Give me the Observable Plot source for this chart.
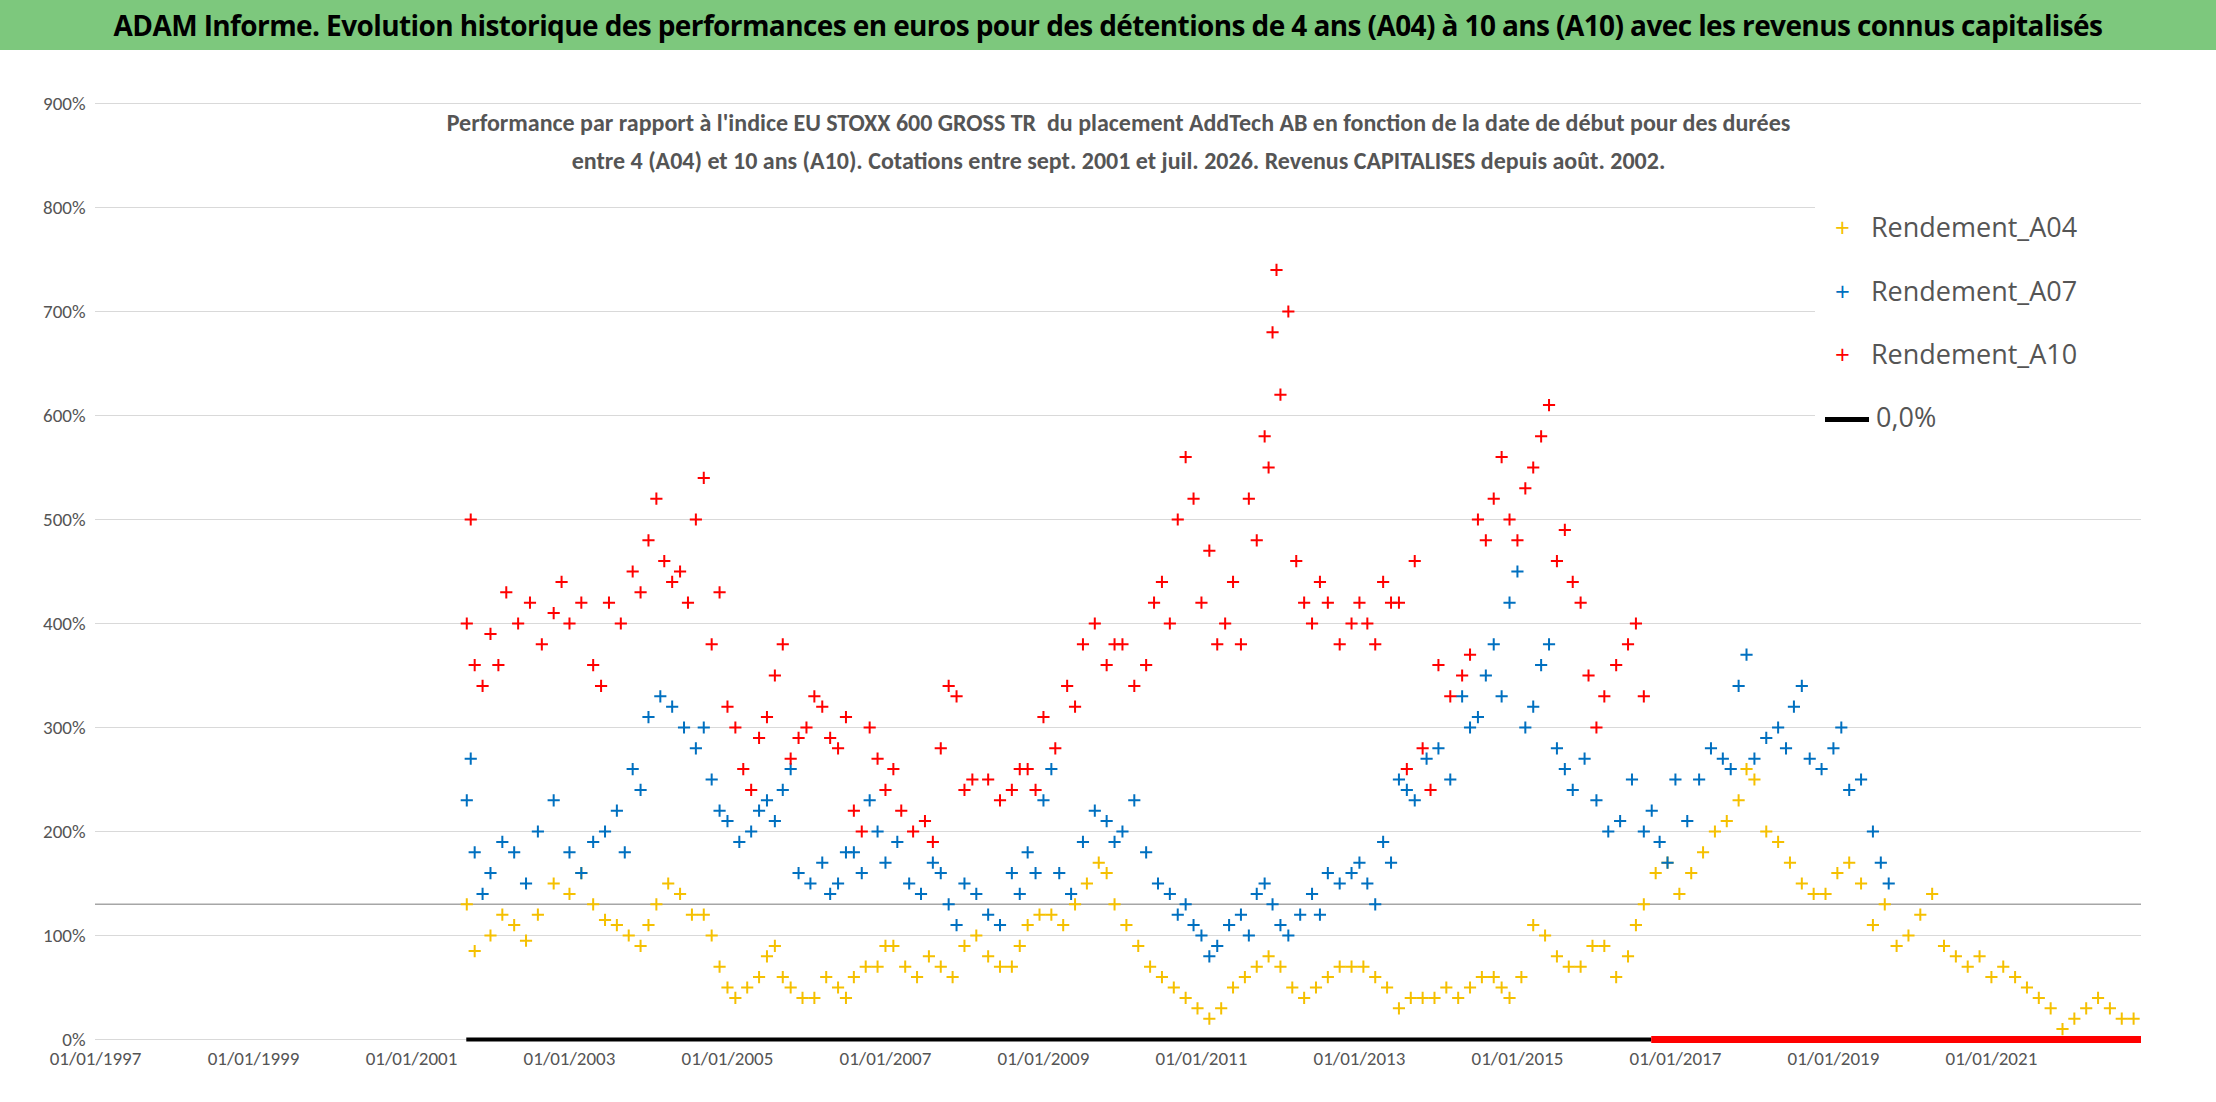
<!DOCTYPE html>
<html><head><meta charset="utf-8">
<script src="https://cdn.jsdelivr.net/npm/d3@7"></script>
<script src="https://cdn.jsdelivr.net/npm/@observablehq/plot@0.6"></script>
<style>
body{margin:0;background:#fff;font-family:Calibri,"Liberation Sans",Arial,sans-serif;}
#wrap{position:relative;width:2216px;height:1102px;}
#title{height:50px;background:#7dc87d;color:#000;font-weight:bold;font-size:28px;text-align:center;line-height:50px;white-space:nowrap;overflow:hidden;font-family:"Open Sans","Liberation Sans",Arial,sans-serif;letter-spacing:-0.6px;}
#legend{position:absolute;left:1815px;top:190px;width:330px;height:255px;background:#fff;font-size:27px;color:#555;font-family:"Open Sans","Liberation Sans",Arial,sans-serif;}
.li{position:absolute;left:20px;}
</style></head><body>
<div id="wrap">
<div id="title">ADAM Informe. Evolution historique des performances en euros pour des détentions de 4 ans (A04) à 10 ans (A10) avec les revenus connus capitalisés</div>
<div id="chart"></div>
<div id="legend">
<div class="li" style="top:18px"><span style="color:#f5c000;font-size:26px;">+</span>&nbsp;&nbsp;&nbsp;Rendement_A04</div>
<div class="li" style="top:82px"><span style="color:#0070c0;font-size:26px;">+</span>&nbsp;&nbsp;&nbsp;Rendement_A07</div>
<div class="li" style="top:145px"><span style="color:#ff0000;font-size:26px;">+</span>&nbsp;&nbsp;&nbsp;Rendement_A10</div>
<div class="li" style="top:208px"><span style="display:inline-block;width:44px;height:5px;background:#000;vertical-align:middle;margin-left:-10px"></span>&nbsp;0,0%</div>
</div>
</div>
<script>
const tickYears=[1997,1999,2001,2003,2005,2007,2009,2011,2013,2015,2017,2019,2021];
const a10Years=[2001.7,2001.8,2002,2002.2,2002.5,2002.8,2003,2003.3,2003.5,2003.8,2004,2004.2,2004.4,2004.6,2004.8,2005,2005.2,2005.4,2005.6,2005.8,2006,2006.2,2006.4,2006.6,2006.8,2007,2007.2,2007.5,2007.7,2007.9,2008,2008.3,2008.6,2008.8,2009,2009.3,2009.5,2009.8,2010,2010.3,2010.5,2010.7,2010.9,2011,2011.2,2011.4,2011.6,2011.8,2011.9,2012,2012.2,2012.4,2012.6,2012.9,2013.1,2013.3,2013.5,2013.6,2013.8,2014,2014.3,2014.5,2014.7,2014.9,2015.1,2015.3,2015.5,2015.7,2015.9,2016.1,2016.4,2016.6];
const a10Vals=[400,360,390,430,420,410,400,360,420,450,480,460,450,500,380,320,260,290,350,270,300,320,280,220,300,240,220,210,280,330,240,250,240,260,310,340,380,360,380,360,440,500,520,420,380,440,520,580,680,620,460,400,420,400,400,440,420,260,280,360,350,500,520,500,530,580,460,440,350,330,380,330];
const a10AltYears=[2001.75,2001.9,2002.1,2002.35,2002.65,2002.9,2003.15,2003.4,2003.65,2003.9,2004.1,2004.3,2004.5,2004.7,2004.9,2005.1,2005.3,2005.5,2005.7,2005.9,2006.1,2006.3,2006.5,2006.7,2006.9,2007.1,2007.35,2007.6,2007.8,2008.1,2008.45,2008.7,2008.9,2009.15,2009.4,2009.65,2009.9,2010.15,2010.4,2010.6,2010.8,2011.1,2011.3,2011.5,2011.7,2011.85,2011.95,2012.1,2012.3,2012.5,2012.75,2013.0,2013.2,2013.4,2013.7,2013.9,2014.15,2014.4,2014.6,2014.8,2015.0,2015.2,2015.4,2015.6,2015.8,2016.0,2016.25,2016.5];
const a10AltVals=[500,340,360,400,380,440,420,340,400,430,520,440,420,540,430,300,240,310,380,290,330,290,310,200,270,260,200,190,340,250,230,260,240,280,320,400,380,340,420,400,560,470,400,380,480,550,740,700,420,440,380,420,380,420,460,240,330,370,480,560,480,550,610,490,420,300,360,400];
const a07Years=[2001.7,2001.8,2002,2002.3,2002.6,2003,2003.3,2003.6,2003.8,2004,2004.3,2004.6,2004.8,2005,2005.3,2005.5,2005.7,2005.9,2006.2,2006.4,2006.6,2006.8,2007,2007.3,2007.6,2007.8,2008,2008.3,2008.6,2008.8,2009,2009.2,2009.5,2009.8,2010,2010.3,2010.6,2010.8,2011,2011.2,2011.5,2011.7,2011.9,2012.1,2012.4,2012.6,2012.9,2013.1,2013.3,2013.5,2013.7,2014,2014.3,2014.5,2014.7,2014.9,2015.1,2015.3,2015.5,2015.7,2016,2016.3,2016.6,2016.8,2017,2017.3,2017.6,2017.8,2018,2018.3,2018.5,2018.7,2019,2019.2,2019.5,2019.7];
const a07Vals=[230,180,160,180,200,180,190,220,260,310,320,280,250,210,200,230,240,160,170,150,180,230,170,150,170,130,150,120,160,180,230,160,190,210,200,180,140,130,100,90,120,140,130,100,140,160,160,150,190,250,230,280,330,310,380,420,300,360,280,240,230,210,200,190,250,250,270,340,270,300,320,270,280,240,200,150];
const a07AltYears=[2001.75,2001.9,2002.15,2002.45,2002.8,2003.15,2003.45,2003.7,2003.9,2004.15,2004.45,2004.7,2004.9,2005.15,2005.4,2005.6,2005.8,2006.05,2006.3,2006.5,2006.7,2006.9,2007.15,2007.45,2007.7,2007.9,2008.15,2008.45,2008.7,2008.9,2009.1,2009.35,2009.65,2009.9,2010.15,2010.45,2010.7,2010.9,2011.1,2011.35,2011.6,2011.8,2012.0,2012.25,2012.5,2012.75,2013.0,2013.2,2013.4,2013.6,2013.85,2014.15,2014.4,2014.6,2014.8,2015.0,2015.2,2015.4,2015.6,2015.85,2016.15,2016.45,2016.7,2016.9,2017.15,2017.45,2017.7,2017.9,2018.15,2018.4,2018.6,2018.85,2019.1,2019.35,2019.6];
const a07AltVals=[270,140,190,150,230,160,200,180,240,330,300,300,220,190,220,210,260,150,140,180,160,200,190,140,160,110,140,110,140,160,260,140,220,190,230,150,120,110,80,110,100,150,110,120,120,150,170,130,170,240,270,250,300,350,330,450,320,380,260,270,200,250,220,170,210,280,260,370,290,280,340,260,300,250,170];
const a04Years=[2001.7,2002,2002.3,2002.6,2003,2003.3,2003.6,2003.9,2004.1,2004.4,2004.7,2004.9,2005.1,2005.4,2005.6,2005.8,2006.1,2006.4,2006.6,2006.9,2007.1,2007.4,2007.7,2008,2008.3,2008.6,2008.8,2009.1,2009.4,2009.7,2009.9,2010.2,2010.5,2010.8,2011.1,2011.4,2011.7,2012,2012.3,2012.6,2012.9,2013.2,2013.5,2013.8,2014.1,2014.4,2014.7,2014.9,2015.2,2015.5,2015.8,2016.1,2016.4,2016.6,2016.9,2017.2,2017.5,2017.8,2018,2018.3,2018.6,2018.9,2019.2,2019.5,2019.8,2020.1,2020.4,2020.7,2021,2021.3,2021.6,2021.9,2022.2,2022.5,2022.8];
const a04Vals=[130,100,110,120,140,130,110,90,130,140,120,70,40,60,90,50,40,50,60,70,90,60,70,90,80,70,110,120,130,170,130,90,60,40,20,50,70,70,40,60,70,60,30,40,50,50,60,40,110,80,70,90,80,130,170,160,200,230,250,190,150,140,170,110,90,120,90,70,60,60,40,10,30,30,20];
const a04AltYears=[2001.8,2002.15,2002.45,2002.8,2003.15,2003.45,2003.75,2004.0,2004.25,2004.55,2004.8,2005.0,2005.25,2005.5,2005.7,2005.95,2006.25,2006.5,2006.75,2007.0,2007.25,2007.55,2007.85,2008.15,2008.45,2008.7,2008.95,2009.25,2009.55,2009.8,2010.05,2010.35,2010.65,2010.95,2011.25,2011.55,2011.85,2012.15,2012.45,2012.75,2013.05,2013.35,2013.65,2013.95,2014.25,2014.55,2014.8,2015.05,2015.35,2015.65,2015.95,2016.25,2016.5,2016.75,2017.05,2017.35,2017.65,2017.9,2018.15,2018.45,2018.75,2019.05,2019.35,2019.65,2019.95,2020.25,2020.55,2020.85,2021.15,2021.45,2021.75,2022.05,2022.35,2022.65];
const a04AltVals=[85,120,95,150,160,115,100,110,150,120,100,50,50,80,60,40,60,40,70,90,70,80,60,100,70,90,120,110,150,160,110,70,50,30,30,60,80,50,50,70,70,50,40,40,40,60,50,60,100,70,90,60,110,160,140,180,210,260,200,170,140,160,150,130,100,140,80,80,70,50,30,20,40,20];
const mk=(ys,vs)=>ys.map((y,i)=>({x:y,v:vs[i]/100}));
const A04=mk(a04Years,a04Vals).concat(mk(a04AltYears,a04AltVals));
const A07=mk(a07Years,a07Vals).concat(mk(a07AltYears,a07AltVals));
const A10=mk(a10Years,a10Vals).concat(mk(a10AltYears,a10AltVals));
const sub1="Performance par rapport à l'indice EU STOXX 600 GROSS TR  du placement AddTech AB en fonction de la date de début pour des durées";
const sub2="entre 4 (A04) et 10 ans (A10). Cotations entre sept. 2001 et juil. 2026. Revenus CAPITALISES depuis août. 2002.";
const plot=Plot.plot({
  width:2216,height:1052,marginTop:53,marginBottom:63,marginLeft:95,marginRight:75,
  style:{fontSize:"19px",fontFamily:"Calibri,'Liberation Sans',Arial,sans-serif",color:"#555"},
  x:{domain:[1997,2022.9],ticks:tickYears,tickFormat:d=>"01/01/"+d,tickSize:0,label:null,tickPadding:12},
  y:{domain:[0,9],ticks:d3.range(0,10),tickFormat:d=>(d*100)+"%",tickSize:0,label:null,tickPadding:10},
  marks:[
    Plot.gridY({ticks:d3.range(0,10),stroke:"#d9d9d9",strokeOpacity:1}),
    Plot.ruleY([1.3],{stroke:"#a6a6a6",strokeWidth:1.5}),
    Plot.dot(A04,{x:"x",y:"v",symbol:"plus",r:4,stroke:"#f5c000",strokeWidth:2}),
    Plot.dot(A07,{x:"x",y:"v",symbol:"plus",r:4,stroke:"#0070c0",strokeWidth:2}),
    Plot.dot(A10,{x:"x",y:"v",symbol:"plus",r:4,stroke:"#ff0000",strokeWidth:2}),
    Plot.ruleY([0],{x1:2001.7,x2:2016.7,stroke:"#000",strokeWidth:4}),
    Plot.ruleY([0],{x1:2016.7,x2:2022.9,stroke:"#ff0000",strokeWidth:7}),
    Plot.text([sub1],{frameAnchor:"top",dy:10,fontSize:24,fontWeight:"bold",fill:"#555"}),
    Plot.text([sub2],{frameAnchor:"top",dy:48,fontSize:24,fontWeight:"bold",fill:"#555"})
  ]
});
document.getElementById("chart").appendChild(plot);
</script>
</body></html>
